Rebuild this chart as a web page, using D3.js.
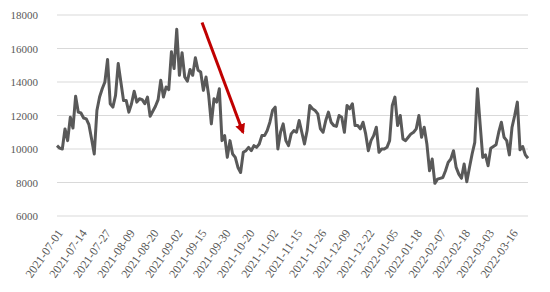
<!DOCTYPE html>
<html>
<head>
<meta charset="utf-8">
<script src="https://cdn.jsdelivr.net/npm/d3@7"></script>
<style>
  body { margin: 0; background: #fff; }
  .tick text { font-family: "Liberation Serif", serif; fill: #595959; }
  .axis-y .tick text { font-size: 11px; }
  .axis-x .tick text { font-size: 12px; }
</style>
</head>
<body>
<svg class="chart"></svg>
<script>
// daily values, one per trading day from 2021-07-01
const values = [
  10200, 10050, 10000, 11200, 10500, 11900, 11250, 13150, 12200, 12150,
  11850, 11800, 11450, 10600, 9700, 12300, 13100, 13600, 14000, 15350,
  12700, 12500, 13200, 15100, 14000, 12900, 12900, 12200, 12700, 13450,
  12800, 13000, 12950, 12700, 13100, 11950, 12250, 12550, 12950, 14100,
  13100, 13700, 13550, 15800, 14800, 17150, 14400, 15750, 14300, 14050,
  14750, 14400, 15450, 14700, 14600, 13500, 14300, 13200, 11500, 13000,
  12800, 13600, 10500, 10800, 9500, 10500, 9700, 9500, 8900, 8600,
  9800, 9900, 10100, 9900, 10200, 10100, 10300, 10800, 10800, 11100,
  11600, 12300, 12500, 10000, 11000, 11500, 10500, 10200, 10900, 11100,
  11000, 11700, 11000, 10300, 11100, 12600, 12400, 12300, 12100, 11200,
  11000, 11700, 12200, 11600, 11400, 11350, 12000, 11900, 11000, 12600,
  12400, 12700, 11400, 11400, 11200, 11600, 10900, 9900, 10500, 10800,
  11300, 9800, 10000, 10000, 10100, 10500, 12600, 13100, 11400, 12000,
  10600, 10500, 10700, 10900, 11000, 11200, 12000, 10700, 11300, 10300,
  8700, 9400, 7950, 8200, 8250, 8300, 8700, 9200, 9400, 9900,
  8900, 8500, 8250, 9100, 8050, 8900, 9700, 10400, 13600, 11500,
  9500, 9650, 9000, 10050, 10150, 10250, 11000, 11600, 10700, 10500,
  9650, 11300, 12000, 12800, 9950, 10150, 9650, 9450
]

// category labels shown on the x axis, one every 9 trading days
const tickLabels = [
  '2021-07-01', '2021-07-14', '2021-07-27', '2021-08-09', '2021-08-20',
  '2021-09-02', '2021-09-15', '2021-09-30', '2021-10-20', '2021-11-02',
  '2021-11-15', '2021-11-26', '2021-12-09', '2021-12-22', '2022-01-05',
  '2022-01-18', '2022-02-07', '2022-02-18', '2022-03-03', '2022-03-16'
]
const labelEvery = 9

const yTicks = [6000, 8000, 10000, 12000, 14000, 16000, 18000]

// arrow annotation: [category index, value] at start and end
const arrowFrom = [54.5, 17550]
const arrowTo = [69.9, 11000]

const width = 550
const height = 292
const margin = { left: 57, right: 22, top: 15, bottom: 76 }

const svg = d3.select('.chart')
    .attr('width', width)
    .attr('height', height)

const x = d3.scaleLinear()
    .domain([0, values.length - 1])
    .range([margin.left, width - margin.right])

const y = d3.scaleLinear()
    .domain([6000, 18000])
    .range([height - margin.bottom, margin.top])

// gridlines
svg.append('g')
    .selectAll('line')
    .data(yTicks)
    .enter().append('line')
    .attr('stroke', '#d9d9d9')
    .attr('stroke-width', 1.2)
    .attr('x1', x(0))
    .attr('x2', x(values.length - 1))
    .attr('y1', d => y(d))
    .attr('y2', d => y(d))

// y axis labels
const yAxis = svg.append('g')
    .attr('class', 'axis-y')
    .attr('transform', `translate(${margin.left},0)`)
    .call(d3.axisLeft(y).tickValues(yTicks).tickFormat(d3.format('d'))
        .tickSize(0).tickPadding(19))
yAxis.select('.domain').remove()

// x axis labels
const xAxis = svg.append('g')
    .attr('class', 'axis-x')
    .attr('transform', `translate(0,${y(6000)})`)
    .call(d3.axisBottom(x)
        .tickValues(tickLabels.map((_, i) => i * labelEvery))
        .tickFormat((d, i) => tickLabels[i])
        .tickSize(0))
xAxis.select('.domain').remove()
xAxis.selectAll('text')
    .attr('text-anchor', 'end')
    .attr('y', 0)
    .attr('dy', 0)
    .attr('transform', 'translate(6,17) rotate(-55)')

// series line
const line = d3.line()
    .x((d, i) => x(i))
    .y(d => y(d))

svg.append('path')
    .datum(values)
    .attr('fill', 'none')
    .attr('stroke', '#595959')
    .attr('stroke-width', 3)
    .attr('stroke-linejoin', 'round')
    .attr('d', line)

// red arrow
svg.append('defs').append('marker')
    .attr('id', 'head')
    .attr('viewBox', '0 0 10 10')
    .attr('refX', 8)
    .attr('refY', 5)
    .attr('markerWidth', 3.4)
    .attr('markerHeight', 3.4)
    .attr('orient', 'auto')
  .append('path')
    .attr('d', 'M0,0 L10,5 L0,10 z')
    .attr('fill', '#c00000')

svg.append('line')
    .attr('x1', x(arrowFrom[0]))
    .attr('y1', y(arrowFrom[1]))
    .attr('x2', x(arrowTo[0]))
    .attr('y2', y(arrowTo[1]))
    .attr('stroke', '#c00000')
    .attr('stroke-width', 3)
    .attr('marker-end', 'url(#head)')
</script>
</body>
</html>
